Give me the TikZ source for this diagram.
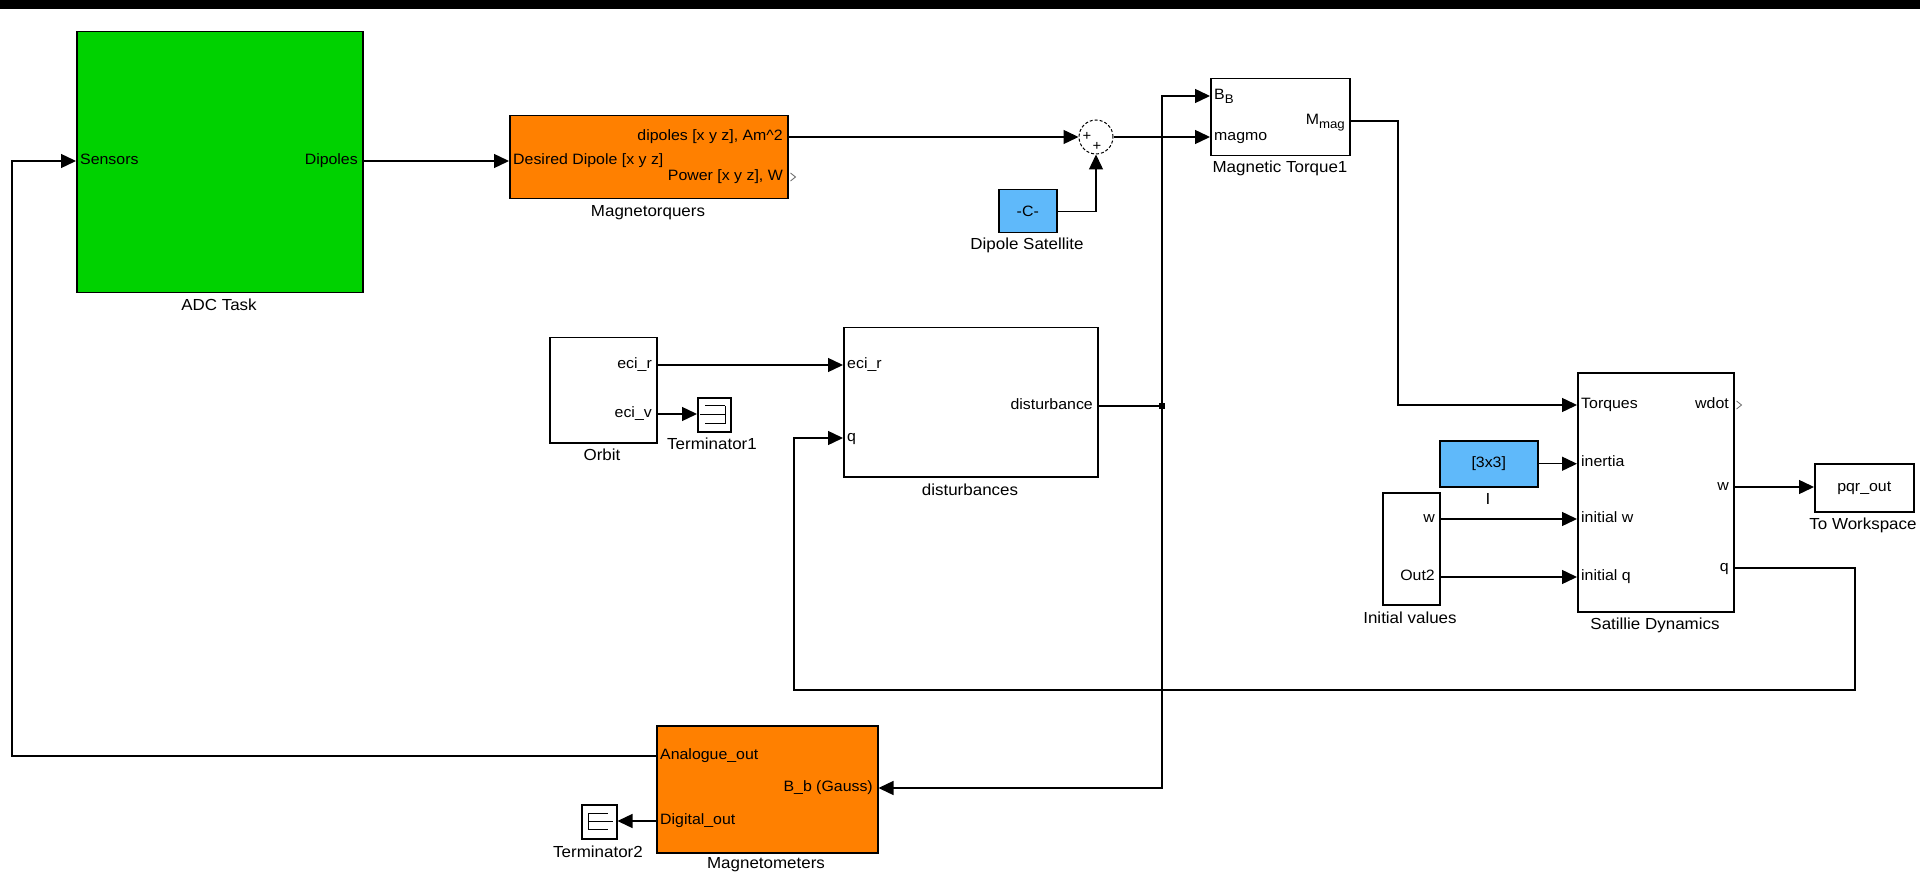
\documentclass[tikz,border=0pt]{standalone}
\usepackage{fontspec}
\setmainfont{Liberation Sans}[FakeStretch=1.06]
\usetikzlibrary{arrows.meta,calc}
\definecolor{sgreen}{RGB}{0,210,0}
\definecolor{sorange}{RGB}{255,128,0}
\definecolor{sblue}{RGB}{95,185,250}
\newcommand{\lowsub}[1]{\raisebox{-4pt}{\fontsize{12.5}{13}\selectfont #1}}
\begin{document}
\begin{tikzpicture}[x=1pt,y=-1pt,
  blk/.style={draw=black, line width=1.5pt, inner sep=0pt, anchor=north west, font=\fontsize{15}{17}\selectfont},
  plab/.style={font=\fontsize{15}{17}\selectfont, inner sep=0pt, text height=10.5pt, text depth=3pt},
  blab/.style={font=\fontsize{16}{18}\selectfont, inner sep=0pt},
  wire/.style={line width=1.4pt},
  sig/.style={line width=1.4pt, -{Triangle[length=15pt,width=14pt]}},
  icon/.style={line width=1pt},
  openport/.style={line width=0.8pt, draw=black!60}]
\useasboundingbox (0,0) rectangle (1920,893);
\fill[white] (0,0) rectangle (1920,893);
\fill[black] (0,0) rectangle (1920,9);

% ---------- blocks ----------
\node[blk, fill=sgreen, minimum width=286pt, minimum height=261pt] (adc) at (76,31) {};
\node[blab] (adcL) at (219,305) {ADC Task};
\node[plab, anchor=west] (pSen) at (80,161) {Sensors};
\node[plab, anchor=east] (pDip) at (358,161) {Dipoles};

\node[blk, fill=sorange, minimum width=278pt, minimum height=83pt] (mtq) at (509,115) {};
\node[blab] (mtqL) at (648,213) {Magnetorquers};
\node[plab, anchor=west] (pDes) at (513,161) {Desired Dipole [x y z]};
\node[plab, anchor=east] (pDipo) at (783,137) {dipoles [x y z], Am\textasciicircum{}2};
\node[plab, anchor=east] (pPow) at (783,177) {Power [x y z], W};

\node[circle, draw, dashed, dash pattern=on 3pt off 2pt, line width=1pt, minimum size=34pt, inner sep=0pt] (sum) at (1096,137) {};
\node[inner sep=0pt, font=\fontsize{14}{16}\selectfont] (sp1) at (1087,136) {+};
\node[inner sep=0pt, font=\fontsize{14}{16}\selectfont] (sp2) at (1097,146) {+};

\node[blk, fill=sblue, minimum width=58pt, minimum height=43pt] (dsat) at (998,189) {-C-};
\node[blab] (dsatL) at (1027,245) {Dipole Satellite};

\node[blk, minimum width=139pt, minimum height=77pt] (mt) at (1210,78) {};
\node[blab] (mtL) at (1280,168) {Magnetic Torque1};
\node[plab, anchor=west] (pBB) at (1214,96) {B\lowsub{B}};
\node[plab, anchor=west] (pMagmo) at (1214,137) {magmo};
\node[plab, anchor=east] (pMmag) at (1345,121) {M\lowsub{mag}};

\node[blk, minimum width=107pt, minimum height=105pt] (orb) at (549,337) {};
\node[blab] (orbL) at (602,455) {Orbit};
\node[plab, anchor=east] (pOr) at (652,365) {eci\_r};
\node[plab, anchor=east] (pOv) at (652,414) {eci\_v};

\node[blk, minimum width=33pt, minimum height=34pt] (t1) at (697,397) {};
\node[blab] (t1L) at (712,444) {Terminator1};

\node[blk, minimum width=254pt, minimum height=149pt] (dist) at (843,327) {};
\node[blab] (distL) at (970,490) {disturbances};
\node[plab, anchor=west] (pDr) at (847,365) {eci\_r};
\node[plab, anchor=west] (pDq) at (847,438) {q};
\node[plab, anchor=east] (pDist) at (1093,406) {disturbance};

\node[blk, minimum width=156pt, minimum height=239pt] (sat) at (1577,372) {};
\node[blab] (satL) at (1655,625) {Satillie Dynamics};
\node[plab, anchor=west] (pTor) at (1581,405) {Torques};
\node[plab, anchor=west] (pIner) at (1581,463) {inertia};
\node[plab, anchor=west] (pIw) at (1581,519) {initial w};
\node[plab, anchor=west] (pIq) at (1581,577) {initial q};
\node[plab, anchor=east] (pWdot) at (1729,405) {wdot};
\node[plab, anchor=east] (pSw) at (1729,487) {w};
\node[plab, anchor=east] (pSq) at (1729,568) {q};

\node[blk, fill=sblue, minimum width=98pt, minimum height=46pt] (iner) at (1439,440) {[3x3]};
\node[blab] (inerL) at (1488,499) {I};

\node[blk, minimum width=57pt, minimum height=112pt] (iv) at (1382,492) {};
\node[blab] (ivL) at (1410,618) {Initial values};
\node[plab, anchor=east] (pIvw) at (1435,519) {w};
\node[plab, anchor=east] (pIvo) at (1435,577) {Out2};

\node[blk, minimum width=99pt, minimum height=48pt] (ws) at (1814,463) {pqr\_out};
\node[blab] (wsL) at (1863,525) {To Workspace};

\node[blk, fill=sorange, minimum width=221pt, minimum height=127pt] (mgm) at (656,725) {};
\node[blab] (mgmL) at (766,865) {Magnetometers};
\node[plab, anchor=west] (pAna) at (660,756) {Analogue\_out};
\node[plab, anchor=west] (pDig) at (660,821) {Digital\_out};
\node[plab, anchor=east] (pBb) at (873,788) {B\_b (Gauss)};

\node[blk, minimum width=35pt, minimum height=34pt] (t2) at (581,804) {};
\node[blab] (t2L) at (598,852) {Terminator2};

% ---------- terminator icons ----------
\draw[icon] ([shift={(11,-9)}]t1.center) -- ([shift={(11,9)}]t1.center);
\draw[icon] ([shift={(-9,-9)}]t1.center) -- ([shift={(11,-9)}]t1.center);
\draw[icon] ([shift={(-9,9)}]t1.center) -- ([shift={(11,9)}]t1.center);
\draw[icon] ([shift={(-14,0)}]t1.center) -- ([shift={(11,0)}]t1.center);

\draw[icon] ([shift={(-11,-8)}]t2.center) -- ([shift={(-11,8)}]t2.center);
\draw[icon] ([shift={(-11,-8)}]t2.center) -- ([shift={(9,-8)}]t2.center);
\draw[icon] ([shift={(-11,8)}]t2.center) -- ([shift={(9,8)}]t2.center);
\draw[icon] ([shift={(-11,0)}]t2.center) -- ([shift={(14,0)}]t2.center);

% ---------- open (unconnected) output ports ----------
\draw[openport] ($(mtq.east |- pPow)+(2,-4)$) -- ++(5,4) -- ++(-5,4);
\draw[openport] ($(sat.east |- pWdot)+(2,-4)$) -- ++(5,4) -- ++(-5,4);

% ---------- connectors ----------
\coordinate (jn) at (1162,406);
\coordinate (tq) at (1398,405);
\coordinate (qa) at (1855,690);
\coordinate (qb) at (794,690);
\coordinate (fa) at (12,756);

\draw[sig] (adc.east |- pDip) -- (mtq.west |- pDes);
\draw[sig] (mtq.east |- pDipo) -- (sum.west);
\draw[sig] (sum.east) -- (mt.west |- pMagmo);
\draw[sig] (dsat.east) -| (sum.south);
\draw[wire] (dist.east |- pDist) -- (jn);
\fill ($(jn)+(-3,-3)$) rectangle ($(jn)+(3,3)$);
\draw[sig] (jn) |- (mt.west |- 0,96);
\draw[sig] (jn) |- (mgm.east |- pBb);
\draw[sig] (mt.east |- 0,121) -| (tq) -- (sat.west |- pTor);
\draw[sig] (iner.east) -- (sat.west |- iner.east);
\draw[sig] (iv.east |- pIvw) -- (sat.west |- pIw);
\draw[sig] (iv.east |- pIvo) -- (sat.west |- pIq);
\draw[sig] (sat.east |- pSw) -- (ws.west |- pSw);
\draw[sig] (sat.east |- pSq) -| (qa) -- (qb) |- (dist.west |- pDq);
\draw[sig] (mgm.west |- pAna) -- (fa) |- (adc.west |- pSen);
\draw[sig] (mgm.west |- pDig) -- (t2.east |- pDig);
\draw[sig] (orb.east |- pOr) -- (dist.west |- pDr);
\draw[sig] (orb.east |- pOv) -- (t1.west |- pOv);
\end{tikzpicture}
\end{document}
